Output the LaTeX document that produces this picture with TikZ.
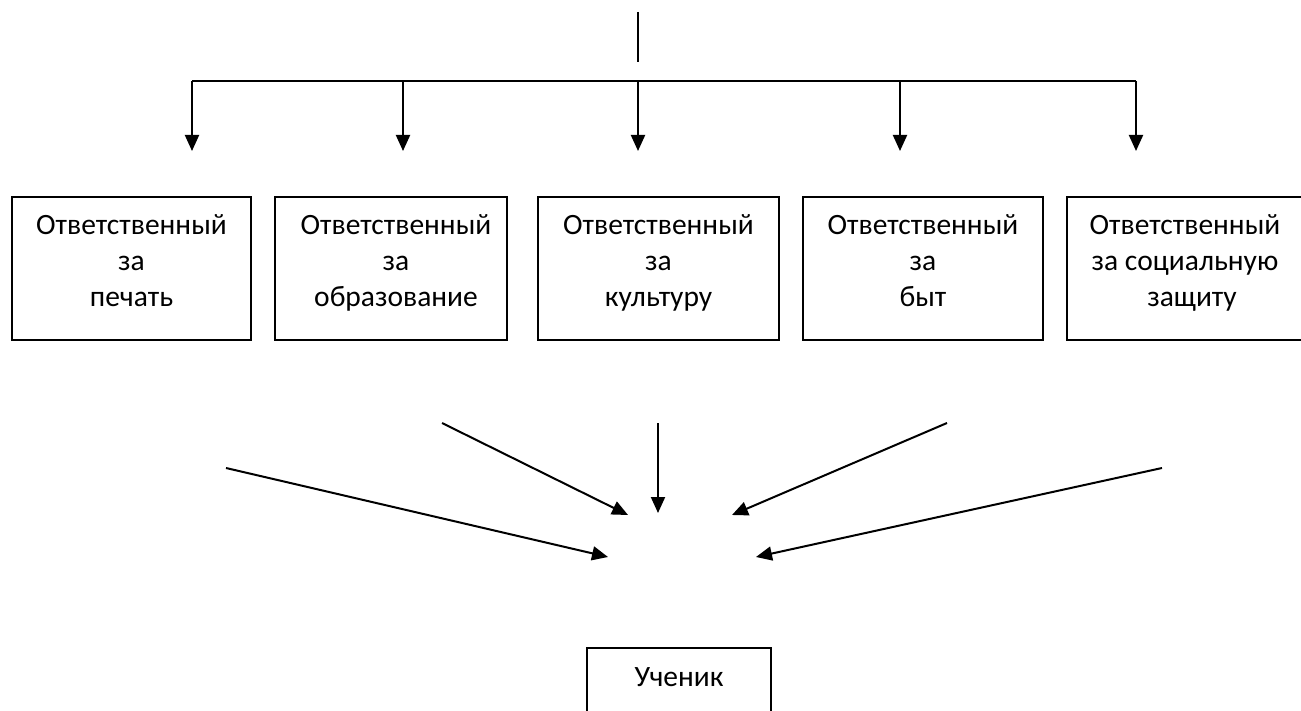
\documentclass[tikz,border=0pt]{standalone}
\usepackage{fontspec}
\setmainfont{Carlito}
\usetikzlibrary{arrows.meta}
\begin{document}
\begin{tikzpicture}[x=1pt,y=-1pt,
  conn/.style={line width=2pt},
  arr/.style={line width=2pt,-{Triangle[length=16pt,width=14pt]}},
  box/.style={draw,line width=2pt,rectangle,anchor=north,inner sep=0pt,
    minimum height=143pt,text height=38pt,text depth=105pt,
    font=\fontsize{29.5}{36}\selectfont},
]
\useasboundingbox (0,0) rectangle (1301,711);
% top connector
\coordinate (top) at (638,12);
\coordinate (topb) at (638,62);
\draw[line width=1.5pt] (top) -- (topb);
\coordinate (h1) at (192,81);
\coordinate (h2) at (403,81);
\coordinate (h3) at (638,81);
\coordinate (h4) at (900,81);
\coordinate (h5) at (1136,81);
\coordinate (t1) at (192,151);
\coordinate (t2) at (403,151);
\coordinate (t3) at (638,151);
\coordinate (t4) at (900,151);
\coordinate (t5) at (1136,151);
\draw[conn] (h1) -- (h5);
\foreach \i in {1,...,5} \draw[arr] (h\i) -- (t\i);
% boxes
\node[box,minimum width=239pt] (b1) at (131.5,196)
  {\begin{tabular}[t]{@{}c@{}}Ответственный\\за\\печать\end{tabular}};
\node[box,minimum width=232pt] (b2) at (391,196)
  {\begin{tabular}[t]{@{\hspace{10pt}}c@{}}Ответственный\\за\\образование\end{tabular}};
\node[box,minimum width=241pt] (b3) at (658.5,196)
  {\begin{tabular}[t]{@{}c@{}}Ответственный\\за\\культуру\end{tabular}};
\node[box,minimum width=240pt] (b4) at (923,196)
  {\begin{tabular}[t]{@{}c@{}}Ответственный\\за\\быт\end{tabular}};
\node[box,minimum width=236pt] (b5) at (1185,196)
  {\begin{tabular}[t]{@{}c@{}}Ответственный\\за социальную\\\hspace{14pt}защиту\end{tabular}};
% converging arrows
\coordinate (s1) at (226,468);
\coordinate (e1) at (608,557);
\coordinate (s2) at (442,423);
\coordinate (e2) at (628,515);
\coordinate (s3) at (658,423);
\coordinate (e3) at (658,513);
\coordinate (s4) at (947,423);
\coordinate (e4) at (732,515);
\coordinate (s5) at (1162,468);
\coordinate (e5) at (756,557);
\foreach \i in {1,...,5} \draw[arr] (s\i) -- (e\i);
% pupil
\node[draw,line width=2pt,rectangle,anchor=north,inner sep=0pt,
  minimum width=184pt,text height=38pt,text depth=50pt,
  font=\fontsize{29.5}{36}\selectfont] (pupil) at (679,647) {Ученик};
\end{tikzpicture}
\end{document}
